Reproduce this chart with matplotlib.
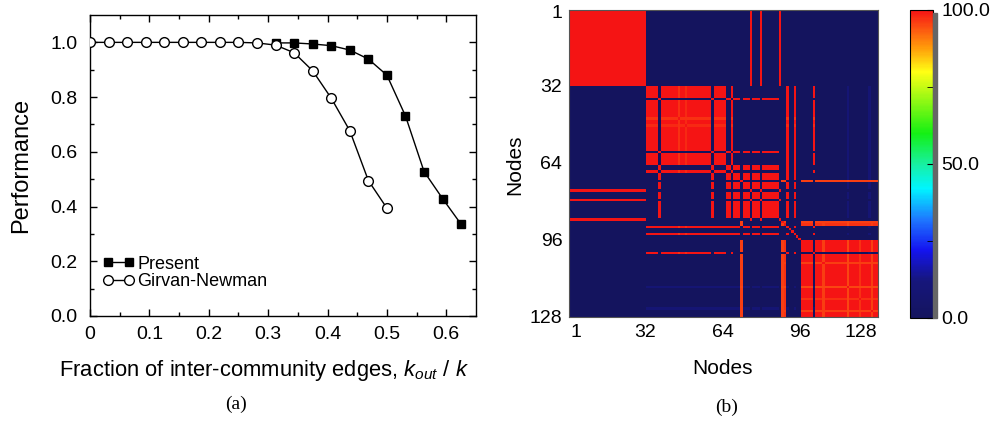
import numpy as np
import matplotlib
matplotlib.use("Agg")
import matplotlib.pyplot as plt
from matplotlib.colors import LinearSegmentedColormap
from matplotlib.patches import Rectangle

plt.rcParams["font.family"] = ["Liberation Sans", "DejaVu Sans"]
plt.rcParams["mathtext.fontset"] = "custom"
plt.rcParams["mathtext.rm"] = "Liberation Sans"
plt.rcParams["mathtext.it"] = "Liberation Sans:italic"

# ---------------- data: panel (a) ----------------
x_present = [0.3125, 0.34375, 0.375, 0.40625, 0.4375, 0.46875, 0.5,
             0.53125, 0.5625, 0.59375, 0.625]
y_present = [0.998, 0.998, 0.994, 0.988, 0.972, 0.939, 0.880,
             0.731, 0.528, 0.429, 0.335]
x_gn = [0.0, 0.03125, 0.0625, 0.09375, 0.125, 0.15625, 0.1875, 0.21875,
        0.25, 0.28125, 0.3125, 0.34375, 0.375, 0.40625, 0.4375, 0.46875, 0.5]
y_gn = [1.0, 1.0, 1.0, 1.0, 1.0, 1.0, 1.0, 1.0,
        1.0, 0.998, 0.990, 0.962, 0.896, 0.796, 0.677, 0.495, 0.394]
xtick_vals = [0, 0.1, 0.2, 0.3, 0.4, 0.5, 0.6]
xtick_labels = ["0", "0.1", "0.2", "0.3", "0.4", "0.5", "0.6"]
ytick_vals = [0.0, 0.2, 0.4, 0.6, 0.8, 1.0]
ytick_labels = ["0.0", "0.2", "0.4", "0.6", "0.8", "1.0"]

# ---------------- data: panel (b) ----------------
n_nodes = 128
group_A = list(range(0, 32)) + [75, 79, 87]
group_B = [i for i in range(32, 65) if i not in (37, 59)] + [67, 90, 93, 101]
group_C = [37, 59] + [i for i in range(65, 87) if i not in (67, 71, 75, 79)] + [90, 93]
group_D = [i for i in range(96, 128) if i != 101] + [71, 88, 89]
groups = [group_A, group_B, group_C, group_D]
# reduced co-occurrence (percent) for some node/group memberships
partial = {(45, 1): 97, (48, 1): 98, (71, 3): 96, (88, 3): 96, (89, 3): 97,
           (105, 3): 96, (115, 3): 95, (125, 3): 96, (120, 3): 97}
faint_nodes = [115, 124]
faint_value = 9
cbar_ticks = [0, 50, 100]
cbar_labels = ["0.0", "50.0", "100.0"]
node_ticks = [1, 32, 64, 96, 128]

M = np.zeros((n_nodes, n_nodes))
for g, members in enumerate(groups):
    for i in members:
        wi = partial.get((i, g), 100)
        for j in members:
            wj = partial.get((j, g), 100)
            M[i, j] = max(M[i, j], min(wi, wj))
for i in range(n_nodes):
    M[i, i] = 100
for f in faint_nodes:
    for j in group_B + group_C:
        if M[f, j] == 0:
            M[f, j] = faint_value
            M[j, f] = faint_value

# ---------------- figure ----------------
W, H = 998, 422
fig = plt.figure(figsize=(W / 100, H / 100), dpi=100)

def fx(px):
    return px / W

def fy(py):
    return 1 - py / H

# panel (a)
ax1 = fig.add_axes([fx(90), fy(316), (476 - 90) / W, (316 - 15) / H])
ax1.plot(x_present, y_present, "-", color="black", lw=1.0, marker="s",
         ms=6.2, mfc="black", mec="black", label="Present", zorder=3)
ax1.plot(x_gn, y_gn, "-", color="black", lw=1.0, marker="o",
         ms=7.0, mfc="white", mec="black", mew=1.0, label="Girvan-Newman", zorder=4)
ax1.set_xlim(0, 0.65)
ax1.set_ylim(0, 1.1)
ax1.set_xticks(xtick_vals)
ax1.set_xticklabels(xtick_labels)
ax1.set_xticks(np.arange(0.05, 0.65, 0.1), minor=True)
ax1.set_yticks(ytick_vals)
ax1.set_yticklabels(ytick_labels)
ax1.set_yticks(np.arange(0.1, 1.1, 0.2), minor=True)
ax1.tick_params(which="both", direction="in", top=True, right=True, labelsize=14)
ax1.tick_params(which="major", length=5, width=1.0)
ax1.tick_params(which="minor", length=3, width=1.0)
ax1.tick_params(axis="x", pad=7)
ax1.tick_params(axis="y", pad=9)
for s in ax1.spines.values():
    s.set_linewidth(1.0)
leg = ax1.legend(loc="lower left", bbox_to_anchor=(0.033, 0.085), frameon=False,
                 fontsize=13, numpoints=2, handlelength=1.77, handletextpad=0.15,
                 labelspacing=0.05, borderpad=0, borderaxespad=0)
fig.text(fx(21), fy(165), "Performance", rotation=90, ha="center", va="center", fontsize=17)
fig.text(fx(264), fy(376), r"Fraction of inter-community edges, $k_{out}$ / $k$",
         ha="center", va="baseline", fontsize=15.8)
fig.text(fx(236), fy(404), "(a)", ha="center", va="center", fontsize=14,
         family=["Liberation Serif", "DejaVu Serif"])

# panel (b)
stops = [(0.0, "#14145e"), (0.12, "#16167c"), (0.22, "#1414f0"), (0.32, "#1e78ff"),
         (0.42, "#00f5ff"), (0.5, "#18f0a0"), (0.6, "#14f014"), (0.8, "#ffff14"),
         (0.88, "#ff9a0a"), (0.95, "#fb4a12"), (1.0, "#f51414")]
cmap = LinearSegmentedColormap.from_list("jetlike", stops)
ax2 = fig.add_axes([fx(569.3), fy(317.3), 309 / W, 307.3 / H])
im = ax2.imshow(M, cmap=cmap, vmin=0, vmax=100, aspect="auto",
                extent=(0.5, n_nodes + 0.5, n_nodes + 0.5, 0.5), interpolation="nearest")
ax2.set_xticks(node_ticks)
ax2.set_yticks(node_ticks)
ax2.set_xticklabels([str(t) for t in node_ticks])
ax2.set_yticklabels([str(t) for t in node_ticks])
ax2.tick_params(length=0, labelsize=14, pad=5)
xl = ax2.get_xticklabels()
xl[0].set_ha("left")
xl[-1].set_ha("right")
for s in ax2.spines.values():
    s.set_linewidth(0.8)
    s.set_color("#555555")
fig.text(fx(723), fy(368), "Nodes", ha="center", va="center", fontsize=15)
fig.text(fx(515), fy(165), "Nodes", rotation=90, ha="center", va="center", fontsize=15)
fig.text(fx(727), fy(407), "(b)", ha="center", va="center", fontsize=14,
         family=["Liberation Serif", "DejaVu Serif"])

# colorbar with shadow
fig.patches.append(Rectangle((fx(933), fy(318)), 4 / W, (318 - 13) / H,
                             transform=fig.transFigure, color="#666666", zorder=0))
cax = fig.add_axes([fx(910), fy(318), 23 / W, 308 / H])
cb = fig.colorbar(im, cax=cax)
cb.set_ticks(cbar_ticks)
cb.set_ticklabels(cbar_labels)
cb.ax.set_yticks([25, 75], minor=True)
cb.ax.tick_params(which="both", direction="in", length=4, labelsize=14, pad=6)
cb.outline.set_linewidth(0.8)

fig.savefig("out.png", dpi=100)
